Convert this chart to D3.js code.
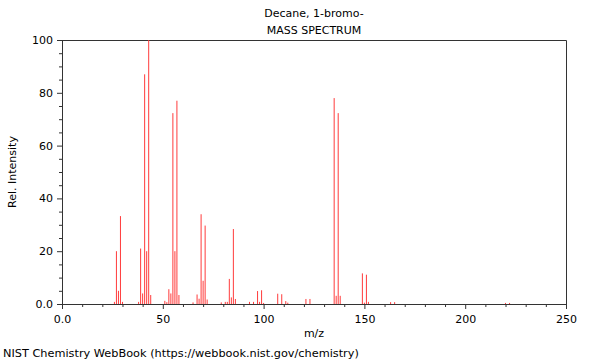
<!DOCTYPE html>
<html>
<head>
<meta charset="utf-8">
<script src="https://cdn.jsdelivr.net/npm/d3@7"></script>
<style>
  html, body { margin: 0; padding: 0; background: #fff; }
  svg { display: block; font-family: "DejaVu Sans", sans-serif; }
</style>
</head>
<body>
<svg id="chart" width="600" height="360"></svg>
<script>
const titleLines = ["Decane, 1-bromo-", "MASS SPECTRUM"];
const xLabel = "m/z";
const yLabel = "Rel. Intensity";
const footer = "NIST Chemistry WebBook (https://webbook.nist.gov/chemistry)";

const mz = [26, 27, 28, 29, 30,
  38, 39, 40, 41, 42, 43, 44,
  51, 52, 53, 54, 55, 56, 57, 58,
  65, 67, 68, 69, 70, 71, 72,
  79, 81, 82, 83, 84, 85, 86,
  93, 95, 97, 98, 99, 100,
  107, 109, 111, 112,
  121, 123,
  135, 136, 137, 138,
  149, 150, 151, 152,
  163, 165,
  220, 222];
const intensity = [0.8, 20, 5, 33.3, 0.8,
  0.8, 21, 4, 87, 20, 100, 3.4,
  1.2, 0.7, 5.6, 4, 72.3, 20, 77, 3.4,
  0.6, 3.6, 2, 34, 8.8, 29.7, 1.7,
  0.6, 0.8, 0.8, 9.5, 2.5, 28.4, 1.9,
  0.8, 0.8, 4.9, 0.8, 5.2, 0.4,
  3.9, 3.7, 1.1, 0.5,
  1.9, 1.9,
  78, 3.1, 72.3, 3.1,
  11.6, 0.5, 11.1, 0.8,
  0.7, 0.7,
  0.4, 0.4];

const xMajorTicks = [0, 50, 100, 150, 200, 250];
const xTickLabels = ["0.0", "50", "100", "150", "200", "250"];
const yMajorTicks = [0, 20, 40, 60, 80, 100];
const yTickLabels = ["0.0", "20", "40", "60", "80", "100"];

const svg = d3.select("#chart");
const mLeft = 62, mRight = 566, mTop = 40, mBottom = 304;
const axisColor = "#333";

const x = d3.scaleLinear().domain([0, 250]).range([mLeft, mRight]);
const y = d3.scaleLinear().domain([0, 100]).range([mBottom, mTop]);

// frame (top and right)
svg.append("path")
  .attr("d", `M${mLeft},${mTop + 0.5}H${mRight + 0.5}V${mBottom}`)
  .attr("fill", "none").attr("stroke", axisColor).attr("stroke-width", 1);

// peaks
svg.append("g").selectAll("line")
  .data(mz.map((m, i) => ({ m, v: intensity[i] })))
  .join("line")
  .attr("x1", d => x(d.m)).attr("x2", d => x(d.m))
  .attr("y1", y(0)).attr("y2", d => y(d.v))
  .attr("stroke", "#ff3b3b").attr("stroke-width", 1);

// minor ticks
const xMinor = d3.range(0, 251, 10).filter(v => v % 50 !== 0);
const yMinor = d3.range(0, 101, 5).filter(v => v % 20 !== 0);

svg.append("g").attr("transform", `translate(0,${mBottom})`)
  .call(d3.axisBottom(x).tickValues(xMinor).tickSize(3).tickFormat("").tickSizeOuter(0))
  .call(g => g.select(".domain").remove())
  .call(g => g.selectAll("line").attr("stroke", axisColor));

svg.append("g").attr("transform", `translate(${mLeft},0)`)
  .call(d3.axisLeft(y).tickValues(yMinor).tickSize(3).tickFormat("").tickSizeOuter(0))
  .call(g => g.select(".domain").remove())
  .call(g => g.selectAll("line").attr("stroke", axisColor));

// major axes
const xAxis = svg.append("g").attr("transform", `translate(0,${mBottom})`)
  .call(d3.axisBottom(x).tickValues(xMajorTicks).tickSize(5).tickPadding(6)
    .tickSizeOuter(0).tickFormat((d, i) => xTickLabels[i]));
xAxis.selectAll("text").attr("font-size", 11).attr("fill", "#000")
  .attr("font-family", "DejaVu Sans");
xAxis.selectAll("line, path").attr("stroke", axisColor);

const yAxis = svg.append("g").attr("transform", `translate(${mLeft},0)`)
  .call(d3.axisLeft(y).tickValues(yMajorTicks).tickSize(5).tickPadding(4)
    .tickSizeOuter(0).tickFormat((d, i) => yTickLabels[i]));
yAxis.selectAll("text").attr("font-size", 11).attr("fill", "#000")
  .attr("font-family", "DejaVu Sans");
yAxis.selectAll("line, path").attr("stroke", axisColor);

// titles
svg.append("text").attr("x", (mLeft + mRight) / 2).attr("y", 17)
  .attr("text-anchor", "middle").attr("font-size", 11).text(titleLines[0]);
svg.append("text").attr("x", (mLeft + mRight) / 2).attr("y", 34)
  .attr("text-anchor", "middle").attr("font-size", 11).text(titleLines[1]);

svg.append("text").attr("x", (mLeft + mRight) / 2).attr("y", 337)
  .attr("text-anchor", "middle").attr("font-size", 11).text(xLabel);

svg.append("text").attr("transform", `translate(15.5,${(mTop + mBottom) / 2}) rotate(-90)`)
  .attr("text-anchor", "middle").attr("font-size", 11).text(yLabel);

svg.append("text").attr("x", 3).attr("y", 357)
  .attr("font-size", 11.3).text(footer);
</script>
</body>
</html>
